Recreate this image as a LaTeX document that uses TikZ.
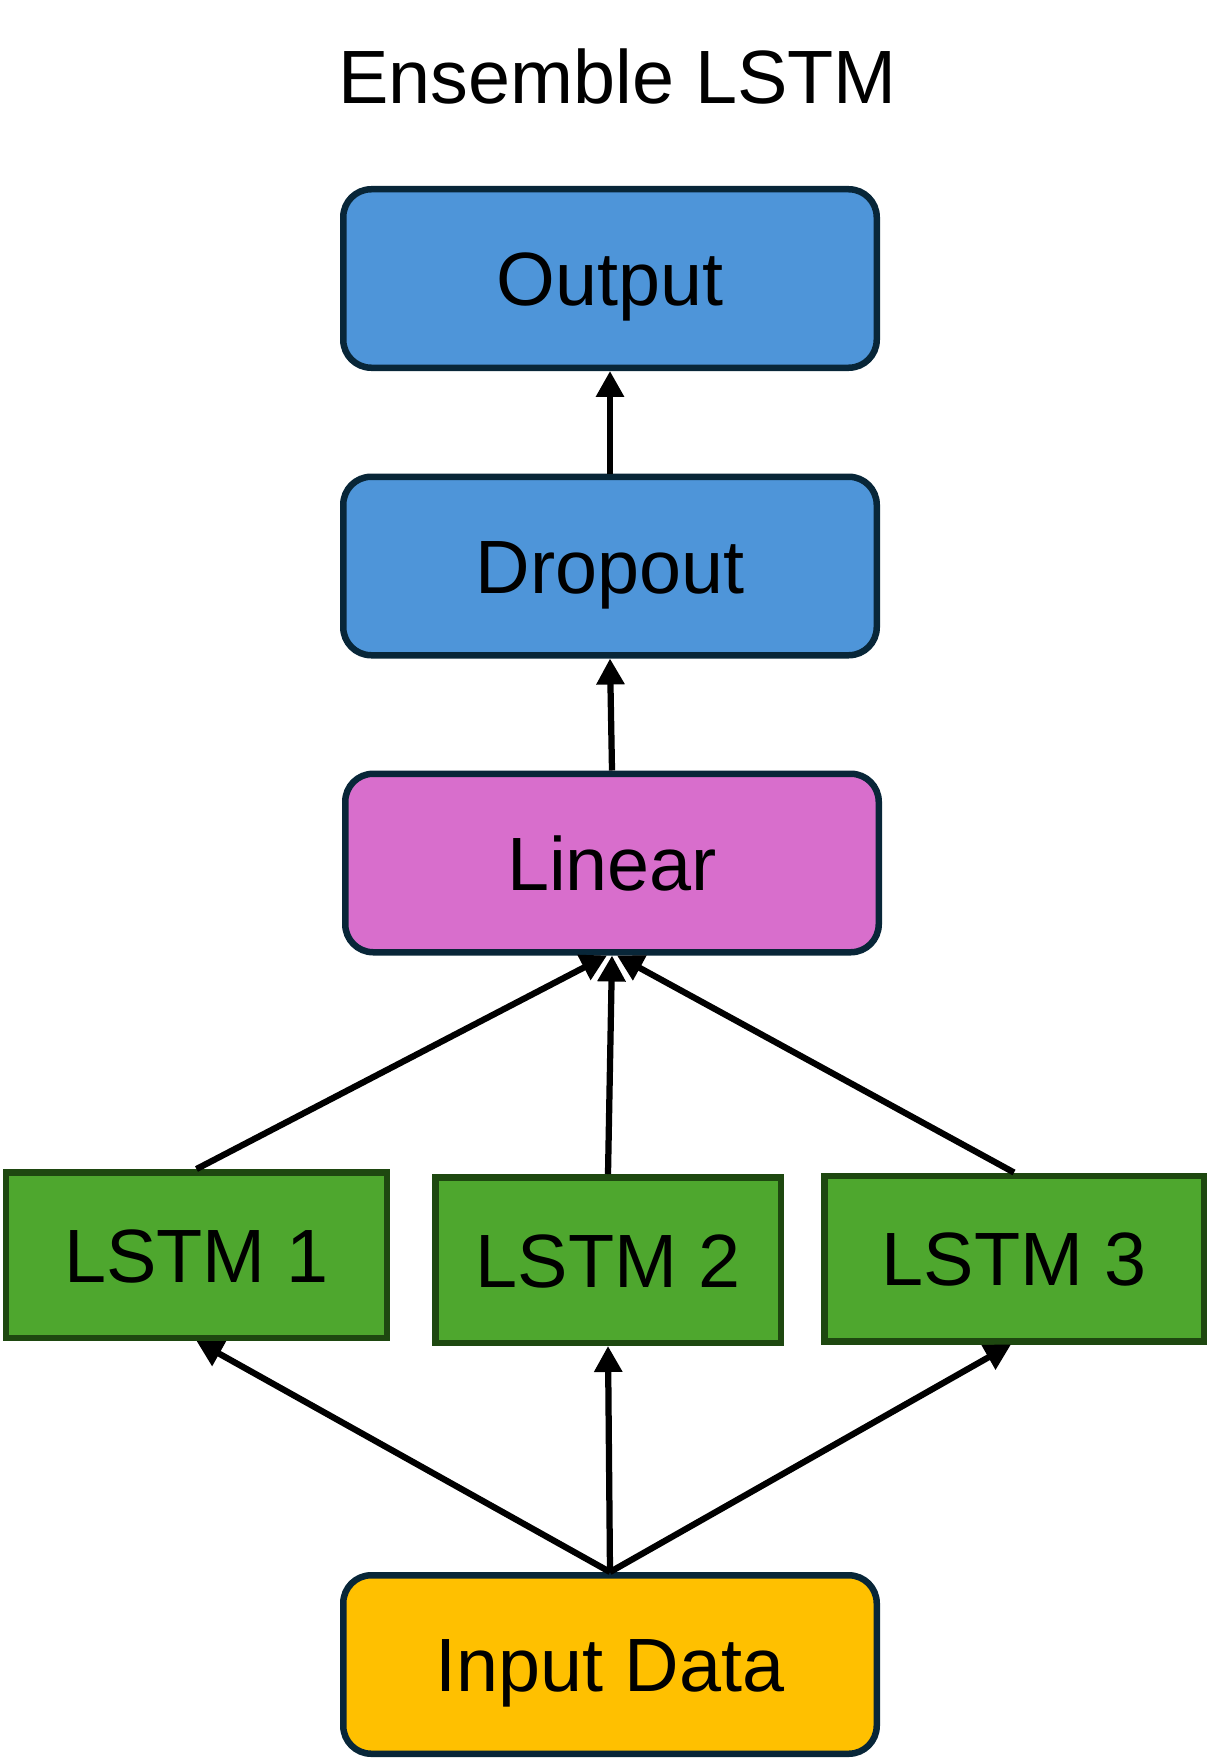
\documentclass[tikz,border=0pt]{standalone}
\usepackage{fontspec}
\setmainfont{Liberation Sans}
\usetikzlibrary{arrows.meta}
\definecolor{boxblue}{HTML}{4E95D9}
\definecolor{boxpink}{HTML}{D86ECC}
\definecolor{boxgreen}{HTML}{4EA72E}
\definecolor{boxyellow}{HTML}{FFC000}
\definecolor{navyedge}{RGB}{8,38,56}
\definecolor{greenedge}{RGB}{30,72,16}
\begin{document}
\begin{tikzpicture}[x=0.02cm,y=-0.02cm,
  every node/.style={font=\fontsize{43}{50}\selectfont, text height=30.8pt, text depth=0pt, inner sep=0pt},
  blk/.style={draw=navyedge, line width=0.13cm, rounded corners=0.56cm,
    minimum width=533.5*0.02cm, minimum height=178.5*0.02cm},
  lstmbox/.style={draw=greenedge, fill=boxgreen, line width=0.13cm,
    minimum height=165.5*0.02cm},
  arr/.style={line width=0.125cm, -{Triangle[length=0.52cm,width=0.54cm]}}]
\useasboundingbox (0,0) rectangle (1210,1764);
\node (title) at (617.5,76) {Ensemble LSTM};
\node[blk, fill=boxblue] (output) at (610,278.5) {Output};
\node[blk, fill=boxblue] (dropout) at (610,566) {Dropout};
\node[blk, fill=boxpink] (linear) at (612,863) {Linear};
\node[lstmbox, minimum width=380.5*0.02cm] (lstm1) at (196.5,1255) {LSTM 1};
\node[lstmbox, minimum width=345.5*0.02cm] (lstm2) at (608,1260) {LSTM 2};
\node[lstmbox, minimum width=379.5*0.02cm] (lstm3) at (1014,1258.5) {LSTM 3};
\node[blk, fill=boxyellow] (input) at (610,1664.5) {Input Data};
\draw[arr] (dropout.north) -- (output.south);
\draw[arr] (linear.north) -- (dropout.south);
\draw[arr] (lstm1.north) -- ([xshift=-0.1cm]linear.south);
\draw[arr] (lstm2.north) -- (linear.south);
\draw[arr] (lstm3.north) -- ([xshift=0.1cm]linear.south);
\draw[arr] (input.north) -- (lstm1.south);
\draw[arr] (input.north) -- (lstm2.south);
\draw[arr] (input.north) -- ([xshift=-0.06cm]lstm3.south);
\end{tikzpicture}
\end{document}
